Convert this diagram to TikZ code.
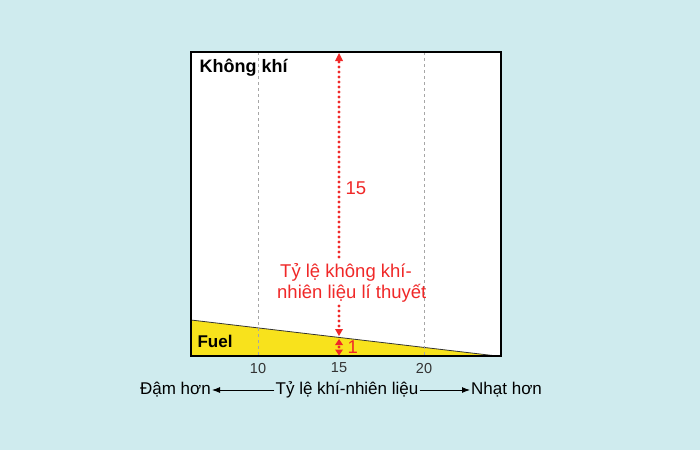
\documentclass[tikz,border=0pt]{standalone}
\usepackage{fontspec}
\setmainfont{Liberation Sans}
\usetikzlibrary{arrows.meta,positioning}
\definecolor{bgcyan}{HTML}{CFEBEE}
\definecolor{fuelyellow}{HTML}{F8E21C}
\definecolor{ratiored}{HTML}{F02828}
\definecolor{tickgray}{HTML}{333333}
\begin{document}
\begin{tikzpicture}[
    x=1pt, y=-1pt,
    grid_line/.style={draw=gray!70, line width=1pt, dash pattern=on 3pt off 3pt},
    red_dot/.style={fill=ratiored, draw=none},
    red_tip/.style={fill=ratiored, draw=none},
    red_text/.style={text=ratiored, font=\fontsize{18.5}{21}\selectfont},
    tick_style/.style={text=tickgray, font=\fontsize{14.5}{16}\selectfont},
    axis_text/.style={font=\fontsize{17}{19}\selectfont, inner sep=1pt},
    axis_arrow/.style={line width=0.9pt, -{Latex[length=8pt,width=6pt]}}
]
% background
\fill[bgcyan] (0,0) rectangle (700,450);
\useasboundingbox (0,0) rectangle (700,450);
% plot box
\coordinate (tl) at (191,52);
\coordinate (br) at (501,356);
\fill[white] (tl) rectangle (br);
\fill[fuelyellow] (191,320) -- (497,356) -- (191,356) -- cycle;
\draw[black!80, line width=0.8pt] (191,320) -- (497,356);
% grid
\foreach \gx in {258,424} {
    \draw[grid_line] (\gx,52) -- (\gx,356);
}
\foreach \gx/\gv in {258/10, 339/15, 424/20} {
    \node[tick_style] (t\gv) at (\gx,368) {\gv};
}
\draw[black, line width=1.3pt] (tl) rectangle (br);
% labels inside
\node[font=\bfseries\fontsize{18}{20}\selectfont, anchor=west] (air) at (196,68) {Không khí};
\node[font=\bfseries\fontsize{17}{19}\selectfont, anchor=west] (fuel) at (194,341) {Fuel};
% ratio arrows (dotted)
\coordinate (top) at (339,53);
\coordinate (mid) at (339,336);
\coordinate (midlow) at (339,339);
\coordinate (bot) at (339,355.5);
\foreach \dy in {62,67,...,257} {
    \fill[red_dot] (339,\dy) circle (1.7);
}
\foreach \dy in {306,311,...,326} {
    \fill[red_dot] (339,\dy) circle (1.7);
}
\fill[red_dot] (339,347) circle (1.7);
\fill[red_tip] (top) -- ++(-4,8) -- ++(8,0) -- cycle;
\fill[red_tip] (mid) -- ++(-4,-7) -- ++(8,0) -- cycle;
\fill[red_tip] (midlow) -- ++(-4,6) -- ++(8,0) -- cycle;
\fill[red_tip] (bot) -- ++(-4,-6) -- ++(8,0) -- cycle;
\node[red_text, anchor=west] (fifteen) at (342,188) {15};
\node[red_text, align=left, anchor=west, inner sep=2pt] (theory) at (275,283) {\hspace{3pt}Tỷ lệ không khí-\\nhiên liệu lí thuyết};
\node[red_text, anchor=west] (one) at (344,347) {1};
% bottom axis
\node[axis_text] (ratio) at (347,390) {Tỷ lệ khí-nhiên liệu};
\node[axis_text, anchor=east] (rich) at (212,390) {Đậm hơn};
\node[axis_text, anchor=west] (lean) at (470,390) {Nhạt hơn};
\draw[axis_arrow] (ratio) -- (rich);
\draw[axis_arrow] (ratio) -- (lean);
\end{tikzpicture}
\end{document}
